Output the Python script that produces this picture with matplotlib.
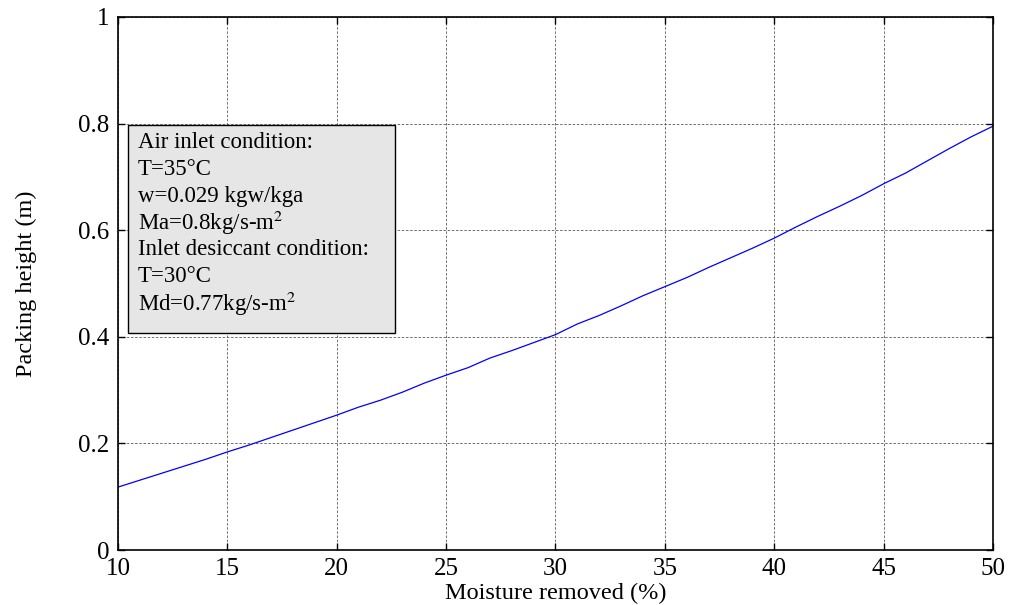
import matplotlib
matplotlib.use("Agg")
import matplotlib.pyplot as plt
from matplotlib.patches import Rectangle

# moisture removed (%) and packing height (m)
moisture = [10, 11, 12, 13, 14, 15, 16, 17, 18, 19, 20, 21, 22, 23, 24, 25, 26, 27, 28, 29,
            30, 31, 32, 33, 34, 35, 36, 37, 38, 39, 40, 41, 42, 43, 44, 45, 46, 47, 48, 49, 50]
height = [0.118, 0.131, 0.144, 0.157, 0.170, 0.184, 0.197, 0.211, 0.225, 0.239,
          0.253, 0.268, 0.281, 0.296, 0.313, 0.328, 0.342, 0.360, 0.374, 0.389,
          0.404, 0.424, 0.440, 0.458, 0.477, 0.494, 0.511, 0.530, 0.548, 0.566,
          0.585, 0.606, 0.626, 0.645, 0.665, 0.687, 0.707, 0.730, 0.753, 0.775, 0.795]
xticks = [10, 15, 20, 25, 30, 35, 40, 45, 50]
yticks = [0, 0.2, 0.4, 0.6, 0.8, 1]
ytick_labels = ["0", "0.2", "0.4", "0.6", "0.8", "1"]
box_lines = ["Air inlet condition:",
             "T=35\u00b0C",
             "w=0.029 kgw/kga",
             "Ma=0.8kg/s-m$^2$",
             "Inlet desiccant condition:",
             "T=30\u00b0C",
             "Md=0.77kg/s-m$^2$"]

plt.rcParams['font.family'] = ['Liberation Serif', 'DejaVu Serif']
plt.rcParams['mathtext.fontset'] = 'stix'

fig = plt.figure(figsize=(10.1, 6.05), dpi=100)
ax = fig.add_axes([0.1168, 0.0909, 0.8663, 0.8811])

ax.plot(moisture, height, color='#0000ff', lw=0.9)
ax.set_xlim(10, 50)
ax.set_ylim(0, 1)
ax.set_xticks(xticks)
ax.set_xticklabels([str(v) for v in xticks])
ax.set_yticks(yticks)
ax.set_yticklabels(ytick_labels)
ax.tick_params(direction='in', length=5, width=1, labelsize=18, top=True, right=True,
               labeltop=False, labelright=False)
ax.tick_params(axis='x', pad=5.5)
ax.tick_params(axis='y', pad=6)
ax.grid(True, linestyle=(0, (3, 2)), color='0.35', lw=0.6)
for s in ax.spines.values():
    s.set_linewidth(1.2)

ax.set_xlabel('Moisture removed (%)', fontsize=17.5, labelpad=2)
ax.set_ylabel('Packing height (m)', fontsize=17.5, labelpad=30)

# annotation box
rect = Rectangle((10.46, 0.407), 12.2, 0.39, facecolor='#e6e6e6', edgecolor='black',
                 lw=1.0, zorder=3)
ax.add_patch(rect)
y0 = 0.765
for i, line in enumerate(box_lines):
    ax.text(10.9, y0 - i * 0.0505, line, fontsize=16.5, va='center', ha='left', zorder=4)

fig.savefig('out.png', dpi=100)
